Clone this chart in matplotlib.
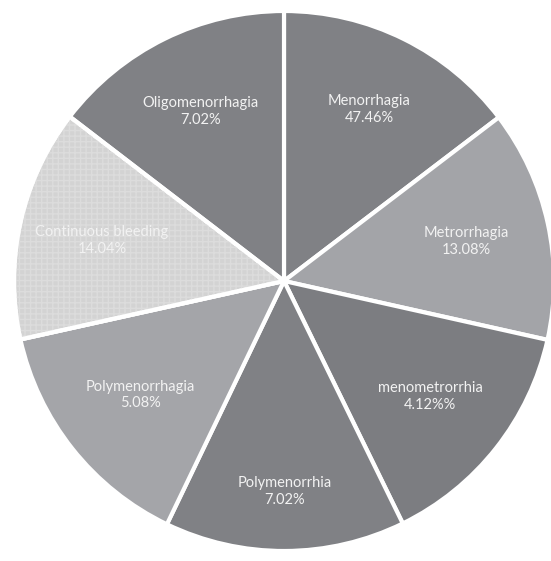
import numpy as np
import matplotlib.pyplot as plt
from matplotlib.patches import Wedge

# categories as labelled in the chart (slice sizes)
labels = ['Menorrhagia', 'Metrorrhagia', 'menometrorrhia', 'Polymenorrhia',
          'Polymenorrhagia', 'Continuous bleeding', 'Oligomenorrhagia']
pct_text = ['47.46%', '13.08%', '4.12%%', '7.02%', '5.08%', '14.04%', '7.02%']
slice_deg = [52.7, 49.9, 51.3, 51.8, 51.8, 50.0, 52.5]
colors = ['#808185', '#a3a4a8', '#7c7d81', '#808185', '#a4a5a9', '#d3d3d3', '#808185']
label_dist = [0.71, 0.69, 0.69, 0.78, 0.68, 0.69, 0.70]

fig = plt.figure(figsize=(5.51, 5.61), dpi=100)
r_px = 270
cx, cy = 284, 561 - 281
ax = fig.add_axes([(cx - r_px) / 551, (cy - r_px) / 561, 2 * r_px / 551, 2 * r_px / 561])

wedges, _ = ax.pie(slice_deg, colors=colors, startangle=90, counterclock=False,
                   radius=1.0, wedgeprops=dict(edgecolor='white', linewidth=3))

# textured look on the continuous bleeding slice
w = wedges[5]
tex = Wedge((0, 0), 1.0, w.theta1, w.theta2, fill=False, hatch='+++',
            edgecolor='#dcdcdc', linewidth=0)
ax.add_patch(tex)
w2 = Wedge((0, 0), 1.0, w.theta1, w.theta2, fill=False, edgecolor='white', linewidth=3)
ax.add_patch(w2)

for wd, lab, pc, d in zip(wedges, labels, pct_text, label_dist):
    ang = np.deg2rad((wd.theta1 + wd.theta2) / 2)
    ax.text(d * np.cos(ang), d * np.sin(ang), lab + '\n' + pc, ha='center', va='center',
            color='#f2f2f2', fontsize=10.5, family='Lato', linespacing=1.25)

ax.set_xlim(-1.0, 1.0)
ax.set_ylim(-1.0, 1.0)
ax.set_aspect('auto')
ax.axis('off')

fig.savefig('out.png', dpi=100)
